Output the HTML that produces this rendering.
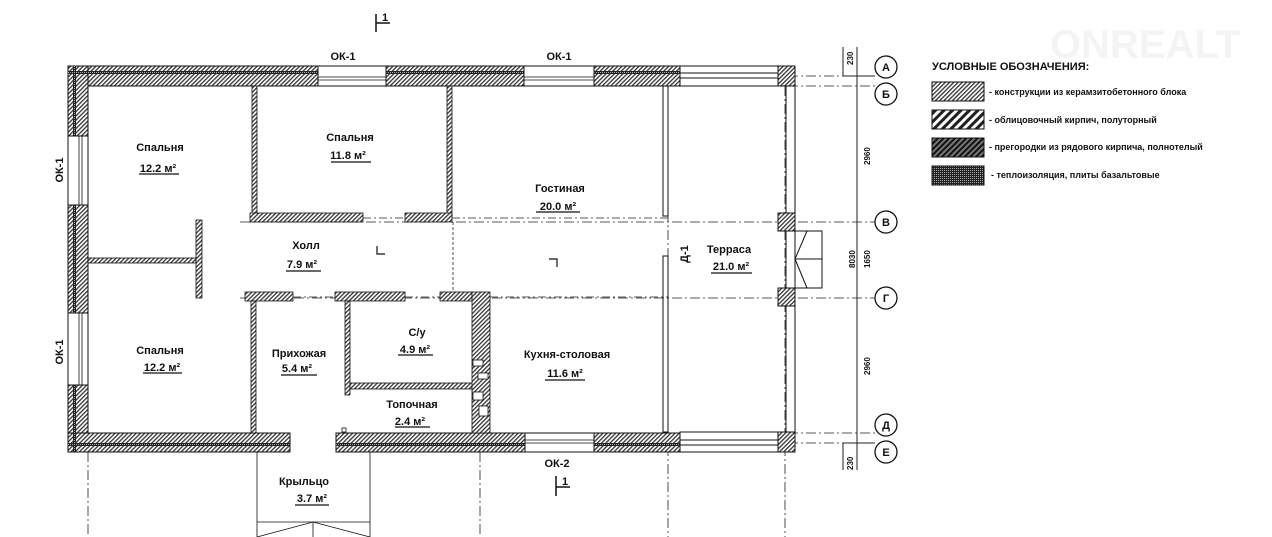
<!DOCTYPE html>
<html><head><meta charset="utf-8"><style>
body{margin:0;background:#fff;width:1272px;height:537px;overflow:hidden}
svg{display:block}
text{font-family:"Liberation Sans",sans-serif;font-weight:bold;fill:#111}
</style></head><body>
<svg width="1272" height="537" viewBox="0 0 1272 537" xmlns="http://www.w3.org/2000/svg">
<defs>
<pattern id="h" width="3" height="3" patternUnits="userSpaceOnUse" patternTransform="rotate(45)">
<rect width="3" height="3" fill="#fff"/><rect width="1.3" height="3" fill="#333"/></pattern>
<pattern id="h2" width="6" height="6" patternUnits="userSpaceOnUse" patternTransform="rotate(45)">
<rect width="6" height="6" fill="#fff"/><rect width="3" height="6" fill="#222"/></pattern>
<pattern id="h3" width="4" height="4" patternUnits="userSpaceOnUse" patternTransform="rotate(45)">
<rect width="4" height="4" fill="#777"/><rect width="2" height="4" fill="#111"/></pattern>
<pattern id="d" width="2" height="2" patternUnits="userSpaceOnUse">
<rect width="2" height="2" fill="#222"/><rect width="1" height="1" fill="#aaa"/></pattern>
</defs>
<text x="1050" y="58" font-size="40" style="fill:#f4f4f4">ONREALT</text>

<g stroke="#222" stroke-width="0.8" stroke-dasharray="10,3,2,3" fill="none">
<line x1="680" y1="76" x2="875" y2="76"/><line x1="680" y1="86" x2="875" y2="86"/>
<line x1="240" y1="222" x2="875" y2="222"/><line x1="240" y1="298" x2="875" y2="298"/>
<line x1="680" y1="433" x2="875" y2="433"/><line x1="680" y1="443" x2="875" y2="443"/>
<line x1="88" y1="452" x2="88" y2="537"/><line x1="480" y1="452" x2="480" y2="537"/>
<line x1="668" y1="86" x2="668" y2="537"/><line x1="785" y1="86" x2="785" y2="537"/>
<line x1="453" y1="222" x2="453" y2="298" stroke-dasharray="3,2"/>
</g>
<g stroke="#222" stroke-width="1" fill="none">
<line x1="857" y1="47" x2="857" y2="470"/><line x1="843" y1="47" x2="843" y2="76"/>
<line x1="843" y1="443" x2="843" y2="470"/>
<line x1="843" y1="76" x2="875" y2="76"/><line x1="843" y1="443" x2="875" y2="443"/>
</g>
<g font-size="8">
<text transform="translate(853,65) rotate(-90)">230</text>
<text transform="translate(870,165) rotate(-90)">2960</text>
<text transform="translate(855,268) rotate(-90)">8030</text>
<text transform="translate(870,268) rotate(-90)">1650</text>
<text transform="translate(870,375) rotate(-90)">2960</text>
<text transform="translate(853,470) rotate(-90)">230</text>
</g>
<g stroke="#111" stroke-width="1.3" fill="#fff">
<circle cx="886" cy="67" r="11"/><circle cx="886" cy="94" r="11"/>
<circle cx="886" cy="222" r="11"/><circle cx="886" cy="298" r="11"/>
<circle cx="886" cy="425" r="11"/><circle cx="886" cy="452" r="11"/>
</g>
<g font-size="11" text-anchor="middle">
<text x="886" y="71">А</text><text x="886" y="98">Б</text><text x="886" y="226">В</text>
<text x="886" y="302">Г</text><text x="886" y="429">Д</text><text x="886" y="456">Е</text>
</g>

<g stroke="#111" stroke-width="1" fill="none">
<rect x="680" y="66" width="115" height="20" fill="#fff"/><line x1="680" y1="73" x2="795" y2="73"/><line x1="680" y1="78" x2="795" y2="78"/>
<rect x="680" y="432" width="115" height="20" fill="#fff"/><line x1="680" y1="440" x2="795" y2="440"/><line x1="680" y1="445" x2="795" y2="445"/>
<line x1="786" y1="86" x2="786" y2="432"/><line x1="795" y1="86" x2="795" y2="432"/>
<rect x="663" y="86" width="5" height="130"/><rect x="663" y="256" width="5" height="176"/>
<rect x="795" y="231" width="27" height="57"/><line x1="795" y1="259" x2="822" y2="259"/>
<polyline points="807,231 795,259 807,288"/>
</g>
<g fill="url(#h)" stroke="#111">
<rect x="778" y="66" width="17" height="20"/><rect x="778" y="213" width="17" height="18"/>
<rect x="778" y="288" width="17" height="18"/><rect x="778" y="432" width="17" height="20"/>
</g>

<g stroke="#111" stroke-width="1" fill="url(#h)">
<rect x="68" y="66" width="250" height="20"/><rect x="386" y="66" width="138" height="20"/>
<rect x="594" y="66" width="86" height="20"/>
<rect x="68" y="66" width="20" height="70"/><rect x="68" y="205" width="20" height="108"/>
<rect x="68" y="385" width="20" height="67"/>
<rect x="68" y="433" width="222" height="19"/><rect x="336" y="433" width="189" height="19"/>
<rect x="594" y="433" width="86" height="19"/>
</g>
<g>
<rect x="68" y="71" width="250" height="3" fill="url(#d)"/>
<rect x="386" y="71" width="138" height="3" fill="url(#d)"/>
<rect x="594" y="71" width="86" height="3" fill="url(#d)"/>
<rect x="73" y="66" width="3" height="70" fill="url(#d)"/>
<rect x="73" y="205" width="3" height="108" fill="url(#d)"/>
<rect x="73" y="385" width="3" height="67" fill="url(#d)"/>
<rect x="68" y="443" width="222" height="3" fill="url(#d)"/>
<rect x="336" y="443" width="189" height="3" fill="url(#d)"/>
<rect x="594" y="443" width="86" height="3" fill="url(#d)"/>
</g>
<g fill="#fff" stroke="#111">
<rect x="318" y="66" width="68" height="20"/><rect x="524" y="66" width="70" height="20"/>
<rect x="68" y="136" width="20" height="69"/><rect x="68" y="313" width="20" height="72"/>
<rect x="525" y="433" width="69" height="19"/>
</g>
<g stroke="#111" stroke-width="0.8">
<line x1="318" y1="77" x2="386" y2="77"/><line x1="318" y1="80" x2="386" y2="80"/>
<line x1="524" y1="77" x2="594" y2="77"/><line x1="524" y1="80" x2="594" y2="80"/>
<line x1="79" y1="136" x2="79" y2="205"/><line x1="82" y1="136" x2="82" y2="205"/>
<line x1="79" y1="313" x2="79" y2="385"/><line x1="82" y1="313" x2="82" y2="385"/>
<line x1="525" y1="440" x2="594" y2="440"/><line x1="525" y1="443" x2="594" y2="443"/>
</g>

<g stroke="#111" stroke-width="0.8" fill="url(#h)">
<rect x="252" y="86" width="5" height="132"/><rect x="447" y="86" width="5" height="132"/>
<rect x="250" y="213" width="113" height="9"/><rect x="405" y="213" width="47" height="9"/>
<rect x="88" y="258" width="108" height="5"/><rect x="196" y="220" width="6" height="78"/>
<rect x="245" y="292" width="48" height="9"/><rect x="335" y="292" width="70" height="9"/>
<rect x="440" y="292" width="32" height="9"/>
<rect x="251" y="301" width="5" height="132"/><rect x="345" y="301" width="5" height="94"/>
<rect x="350" y="383" width="122" height="6"/>
<rect x="472" y="292" width="18" height="141"/>
</g>
<g stroke="#111" stroke-width="0.8" fill="#fff">
<rect x="473" y="360" width="10" height="6"/><rect x="478" y="373" width="10" height="6"/>
<rect x="473" y="392" width="10" height="8"/><rect x="479" y="406" width="9" height="10"/>
</g>
<g stroke="#222" stroke-width="0.8" stroke-dasharray="8,3,2,3">
<line x1="363" y1="218" x2="405" y2="218"/><line x1="452" y1="218" x2="668" y2="218"/>
<line x1="293" y1="297" x2="335" y2="297"/><line x1="405" y1="297" x2="440" y2="297"/>
<line x1="490" y1="297" x2="668" y2="297"/>
</g>
<g stroke="#111" stroke-width="1.2" fill="none">
<polyline points="377,246 377,254 385,254"/><polyline points="549,259 557,259 557,267"/>
</g>

<g stroke="#111" stroke-width="0.8" fill="none">
<line x1="257" y1="452" x2="257" y2="537"/><line x1="370" y1="452" x2="370" y2="537"/>
<line x1="257" y1="522" x2="370" y2="522"/>
<polyline points="257,537 313,522 370,537"/><line x1="313" y1="522" x2="313" y2="537"/>
<rect x="342" y="428" width="4" height="4"/>
</g>

<g stroke="#111" stroke-width="1.5">
<line x1="376" y1="14" x2="376" y2="32"/><line x1="376" y1="23" x2="390" y2="23"/>
<line x1="556" y1="476" x2="556" y2="496"/><line x1="556" y1="487" x2="570" y2="487"/>
</g>
<g font-size="11"><text x="382" y="21">1</text><text x="562" y="485">1</text></g>

<g font-size="11" text-anchor="middle">
<text x="343" y="60">ОК-1</text><text x="559" y="60">ОК-1</text><text x="557" y="467">ОК-2</text>
<text transform="translate(63,170) rotate(-90)">ОК-1</text>
<text transform="translate(63,352) rotate(-90)">ОК-1</text>
<text transform="translate(688,254) rotate(-90)">Д-1</text>
<text x="160" y="151">Спальня</text><text x="350" y="141">Спальня</text>
<text x="560" y="192">Гостиная</text><text x="306" y="249">Холл</text>
<text x="729" y="253">Терраса</text><text x="160" y="354">Спальня</text>
<text x="417" y="336">С/у</text><text x="299" y="357">Прихожая</text>
<text x="567" y="358">Кухня-столовая</text><text x="412" y="408">Топочная</text>
<text x="304" y="485">Крыльцо</text>
</g>
<g font-size="11" text-anchor="middle">
<text x="158" y="172">12.2 м²</text><text x="348" y="159">11.8 м²</text>
<text x="558" y="210">20.0 м²</text><text x="302" y="268">7.9 м²</text>
<text x="731" y="270">21.0 м²</text><text x="162" y="371">12.2 м²</text>
<text x="415" y="353">4.9 м²</text><text x="297" y="372">5.4 м²</text>
<text x="565" y="377">11.6 м²</text><text x="410" y="425">2.4 м²</text>
<text x="312" y="502">3.7 м²</text>
</g>
<g stroke="#111" stroke-width="1.2">
<line x1="139" y1="174" x2="179" y2="174"/><line x1="331" y1="162" x2="371" y2="162"/>
<line x1="536" y1="212" x2="580" y2="212"/><line x1="286" y1="271" x2="321" y2="271"/>
<line x1="711" y1="273" x2="752" y2="273"/><line x1="143" y1="373" x2="182" y2="373"/>
<line x1="398" y1="355" x2="433" y2="355"/><line x1="281" y1="375" x2="317" y2="375"/>
<line x1="545" y1="380" x2="585" y2="380"/><line x1="395" y1="427" x2="430" y2="427"/>
<line x1="295" y1="505" x2="329" y2="505"/>
</g>

<text x="932" y="70" font-size="11">УСЛОВНЫЕ ОБОЗНАЧЕНИЯ:</text>
<g stroke="#111">
<rect x="932" y="82" width="52" height="19" fill="url(#h)"/>
<rect x="932" y="110" width="52" height="19" fill="url(#h2)"/>
<rect x="932" y="138" width="52" height="19" fill="url(#h3)"/>
<rect x="932" y="166" width="52" height="19" fill="url(#d)"/>
</g>
<g font-size="9">
<text x="989" y="95">- конструкции из керамзитобетонного блока</text>
<text x="989" y="123">- облицовочный кирпич, полуторный</text>
<text x="989" y="150">- прегородки из рядового кирпича, полнотелый</text>
<text x="991" y="178">- теплоизоляция, плиты базальтовые</text>
</g>
</svg>
</body></html>
